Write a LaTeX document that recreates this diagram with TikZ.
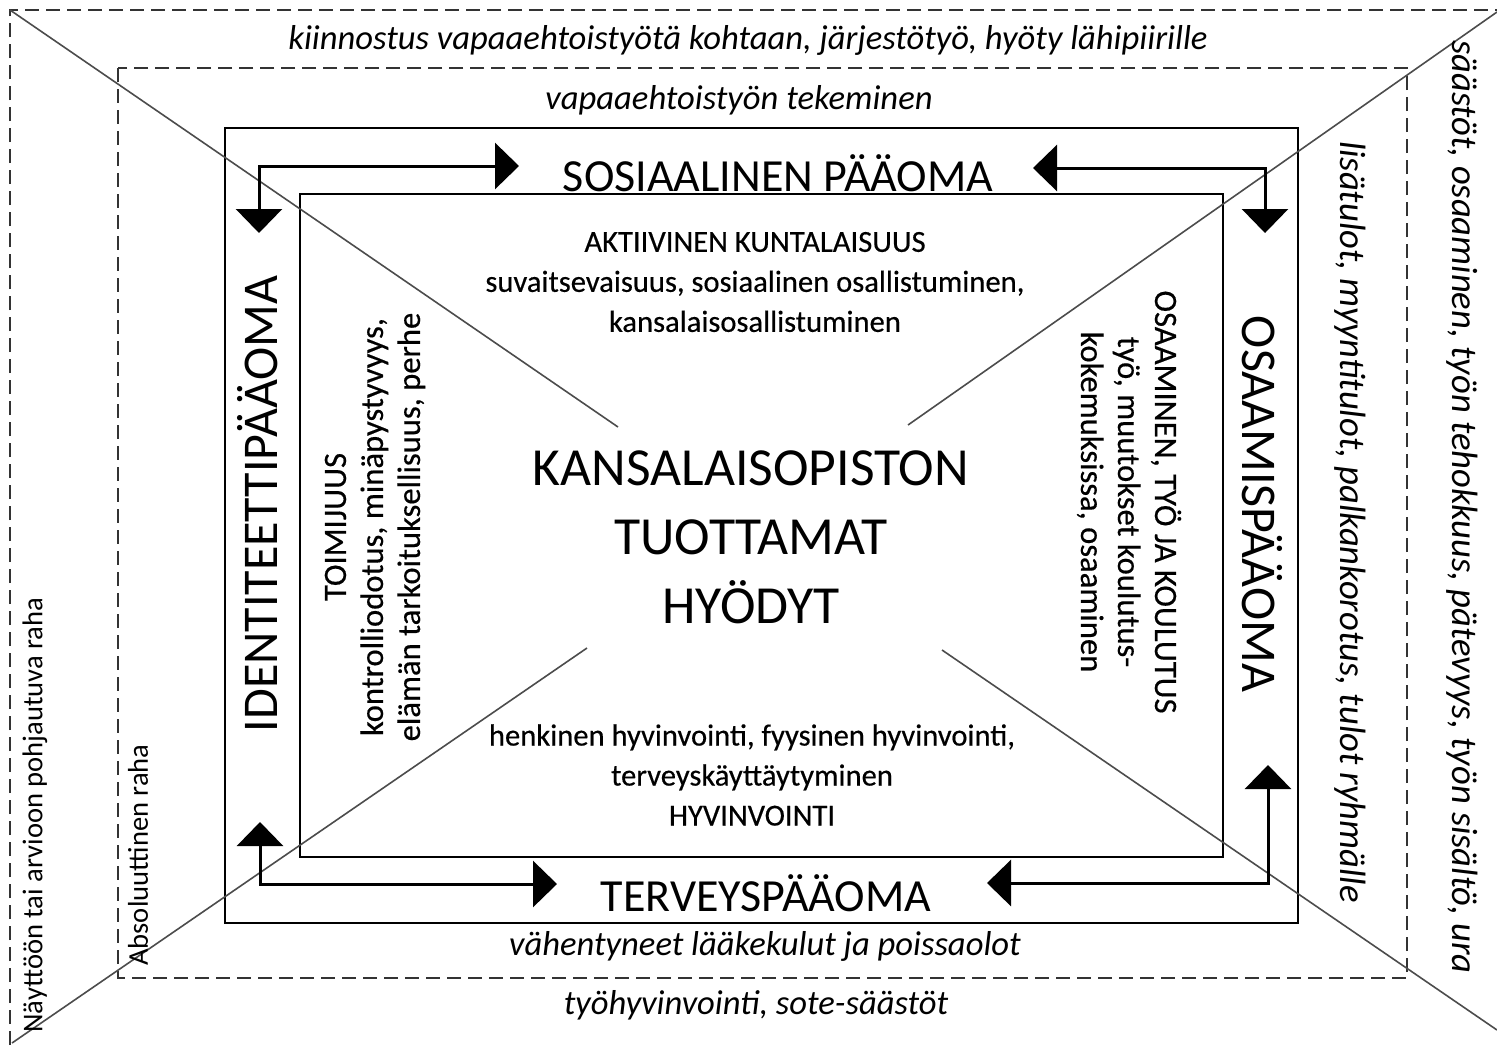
\documentclass[tikz,border=0pt]{standalone}
\usepackage{fontspec}
\setmainfont{Carlito}
\newfontfamily\semib[FakeBold=0.4]{Carlito}
\usetikzlibrary{arrows.meta}
\begin{document}
\begin{tikzpicture}[x=0.5pt,y=-0.5pt,
  dline/.style={dash pattern=on 7pt off 3.5pt, line width=1.2pt, black!80},
  frame/.style={line width=1.3pt},
  diag/.style={line width=0.8pt, black!70},
  flow/.style={line width=1.5pt, {Triangle[length=12pt,width=23pt]}-{Triangle[length=12pt,width=23pt]}},
  band/.style={font=\fontsize{17.3}{20}\selectfont\itshape, inner sep=0pt},
  bandr/.style={font=\fontsize{18.3}{22}\selectfont\itshape, inner sep=0pt, rotate=-90},
  small/.style={font=\fontsize{14.3}{17}\selectfont, inner sep=0pt, rotate=90},
  capl/.style={font=\fontsize{23}{27}\selectfont, inner sep=0pt},
  capr/.style={font=\fontsize{25}{29}\selectfont, inner sep=0pt},
  mid/.style={font=\semib\fontsize{15.3}{20}\selectfont, align=center, inner sep=0pt},
  side/.style={font=\semib\fontsize{16.3}{18.5}\selectfont, align=center, inner sep=0pt},
  big/.style={font=\fontsize{26.8}{34.5}\selectfont, align=center, inner sep=0pt},
]
\useasboundingbox (0,0) rectangle (1497,1045);
\fill[white] (0,0) rectangle (1497,1045);
% outer dashed frame (cropped)
\coordinate (oTL) at (10,10);
\coordinate (oTR) at (1497,10);
\coordinate (oBL) at (10,1045);
\draw[dline] (oBL) -- (oTL) -- (oTR);
% inner dashed frame
\draw[dline] (118,68) rectangle (1407,978);
% solid frames
\draw[frame] (225,128) rectangle (1298,923);
\draw[frame] (300,194) rectangle (1223,857);
% diagonals
\coordinate (dTL) at (10,10);
\coordinate (dBR) at (1497,1030);
\coordinate (dTR) at (1497,12);
\coordinate (dBL) at (12,1043);
\coordinate (cUL) at (618,427);
\coordinate (cLR) at (942,650);
\coordinate (cUR) at (908,425);
\coordinate (cLL) at (587,648);
\draw[diag] (dTL) -- (cUL);
\draw[diag] (cLR) -- (dBR);
\draw[diag] (dTR) -- (cUR);
\draw[diag] (cLL) -- (dBL);
% arrows
\coordinate (a1s) at (259,233); \coordinate (a1m) at (259,166); \coordinate (a1e) at (519,166);
\draw[flow] (a1s) -- (a1m) -- (a1e);
\coordinate (a2s) at (1033,168); \coordinate (a2m) at (1265,168); \coordinate (a2e) at (1265,233);
\draw[flow] (a2s) -- (a2m) -- (a2e);
\coordinate (a3s) at (260,822); \coordinate (a3m) at (260,884); \coordinate (a3e) at (557,884);
\draw[flow] (a3s) -- (a3m) -- (a3e);
\coordinate (a4s) at (987,883); \coordinate (a4m) at (1268,883); \coordinate (a4e) at (1268,765);
\draw[flow] (a4s) -- (a4m) -- (a4e);
% texts
\node[band] (t1) at (748,40) {kiinnostus vapaaehtoistyötä kohtaan, järjestötyö, hyöty lähipiirille};
\node[band] (t2) at (739,100) {vapaaehtoistyön tekeminen};
\node[capl] (sos) at (778,173) {SOSIAALINEN PÄÄOMA};
\node[mid] (akt) at (755,282) {AKTIIVINEN KUNTALAISUUS\\suvaitsevaisuus, sosiaalinen osallistuminen,\\kansalaisosallistuminen};
\node[big] (kans) at (751,537) {KANSALAISOPISTON\\TUOTTAMAT\\HYÖDYT};
\node[mid] (hyv) at (752,775) {henkinen hyvinvointi, fyysinen hyvinvointi,\\terveyskäyttäytyminen\\HYVINVOINTI};
\node[capl] (ter) at (766,893) {TERVEYSPÄÄOMA};
\node[band] (t3) at (765,946) {vähentyneet lääkekulut ja poissaolot};
\node[band] (t4) at (756,1005) {työhyvinvointi, sote-säästöt};
\node[small] (nay) at (35,815) {Näyttöön tai arvioon pohjautuva raha};
\node[small] (abs) at (138,855) {Absoluuttinen raha};
\node[capr, rotate=90] (ide) at (258,504) {IDENTITEETTIPÄÄOMA};
\node[side, rotate=90] (toi) at (375,527) {TOIMIJUUS\\kontrolliodotus, minäpystyvyys,\\elämän tarkoituksellisuus, perhe};
\node[capr, rotate=-90] (osa) at (1262,504) {OSAAMISPÄÄOMA};
\node[side, rotate=-90] (osm) at (1129,502) {OSAAMINEN, TYÖ JA KOULUTUS\\työ, muutokset koulutus-\\kokemuksissa, osaaminen};
\node[bandr] (lis) at (1350,522) {lisätulot, myyntitulot, palkankorotus, tulot ryhmälle};
\node[bandr] (saa) at (1462,507) {säästöt, osaaminen, työn tehokkuus, pätevyys, työn sisältö, ura};
\end{tikzpicture}
\end{document}
